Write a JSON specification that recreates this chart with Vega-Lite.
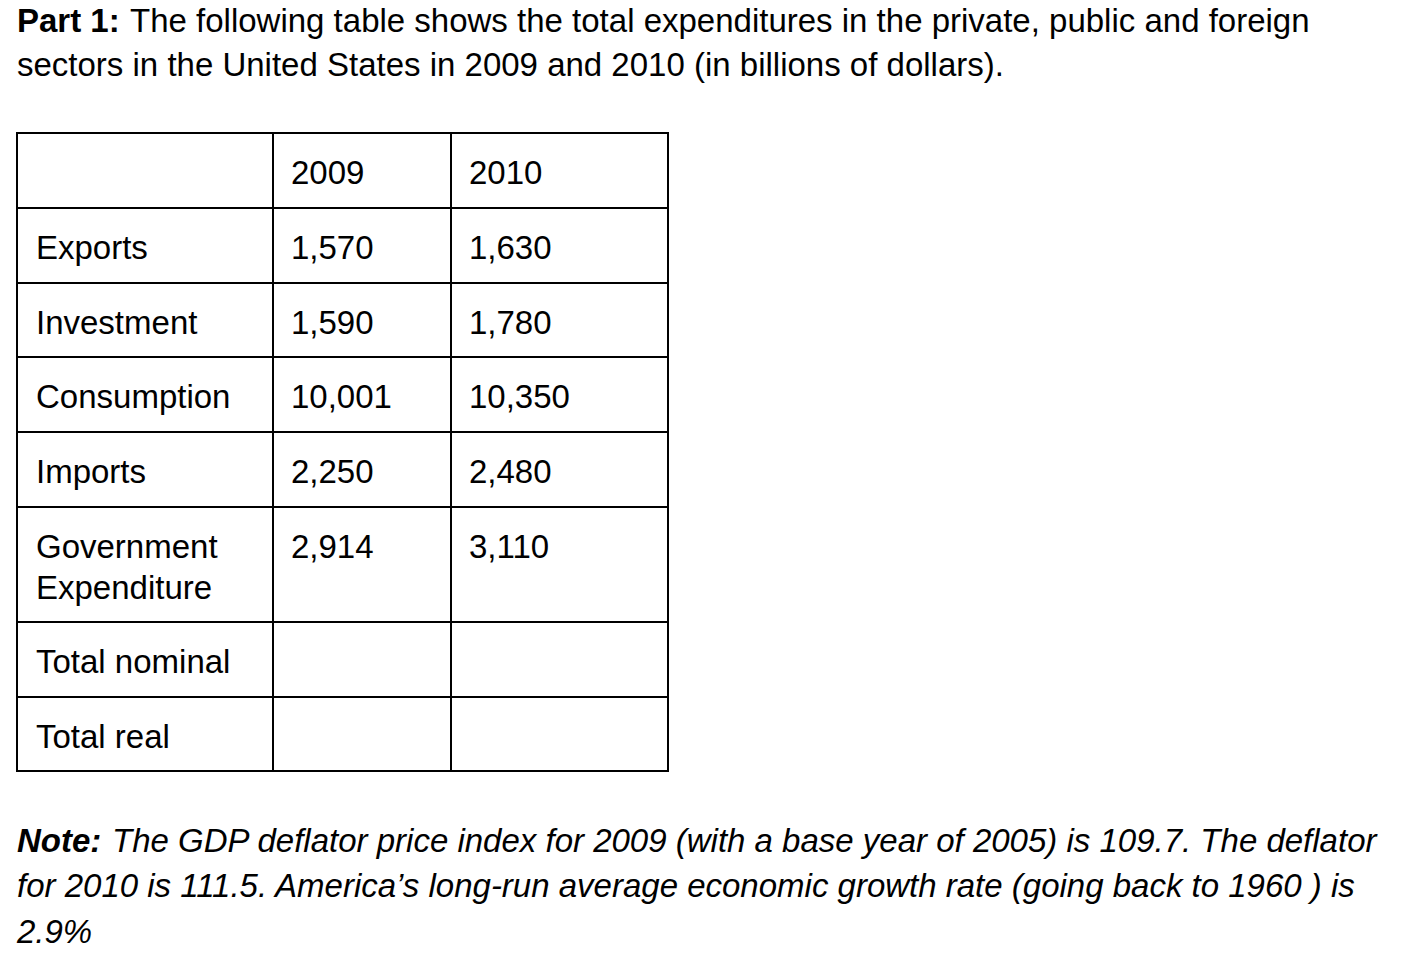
{
  "$schema": "https://vega.github.io/schema/vega-lite/v6.json",
  "width": 1428,
  "height": 958,
  "autosize": {"type": "fit", "contains": "padding"},
  "padding": 0,
  "background": "white",
  "config": {"view": {"stroke": null}, "font": "Liberation Sans"},
  "datasets": {
    "prose": [
      {"line": 0, "seg": 0, "style": "bold", "text": "Part 1:"},
      {"line": 0, "seg": 2, "style": "plain", "text": "The following table shows the total expenditures in the private, public and foreign"},
      {"line": 1, "seg": 0, "style": "plain", "text": "sectors in the United States in 2009 and 2010 (in billions of dollars)."},
      {"line": 2, "seg": 0, "style": "bolditalic", "text": "Note:"},
      {"line": 2, "seg": 1, "style": "italic", "text": "The GDP deflator price index for 2009 (with a base year of 2005) is 109.7. The deflator"},
      {"line": 3, "seg": 0, "style": "italic", "text": "for 2010 is 111.5. America’s long-run average economic growth rate (going back to 1960 ) is"},
      {"line": 4, "seg": 0, "style": "italic", "text": "2.9%"}
    ],
    "rows": [
      {"r": 1, "label": "Exports"},
      {"r": 2, "label": "Investment"},
      {"r": 3, "label": "Consumption"},
      {"r": 4, "label": "Imports"},
      {"r": 5, "label": "Government\nExpenditure"},
      {"r": 6, "label": "Total nominal"},
      {"r": 7, "label": "Total real"}
    ],
    "header": [
      {"r": 0, "c": 1, "year": "2009"},
      {"r": 0, "c": 2, "year": "2010"}
    ],
    "cells": [
      {"r": 1, "c": 1, "value": 1570},
      {"r": 1, "c": 2, "value": 1630},
      {"r": 2, "c": 1, "value": 1590},
      {"r": 2, "c": 2, "value": 1780},
      {"r": 3, "c": 1, "value": 10001},
      {"r": 3, "c": 2, "value": 10350},
      {"r": 4, "c": 1, "value": 2250},
      {"r": 4, "c": 2, "value": 2480},
      {"r": 5, "c": 1, "value": 2914},
      {"r": 5, "c": 2, "value": 3110}
    ],
    "hlines": [{"r": 0}, {"r": 1}, {"r": 2}, {"r": 3}, {"r": 4}, {"r": 5}, {"r": 6}, {"r": 7}, {"r": 8}],
    "vlines": [{"c": 0}, {"c": 1}, {"c": 2}, {"c": 3}]
  },
  "resolve": {"scale": {"x": "independent", "y": "independent"}},
  "layer": [
    {
      "data": {"name": "hlines"},
      "mark": {"type": "rule", "stroke": "black", "strokeWidth": 2, "strokeCap": "square"},
      "encoding": {
        "y": {"field": "r", "type": "quantitative", "axis": null,
              "scale": {"domain": [0, 1, 2, 3, 4, 5, 6, 7, 8], "range": [133, 208, 283, 357, 432, 507, 622, 697, 771], "zero": false, "nice": false}},
        "x": {"datum": 0, "type": "quantitative", "axis": null,
              "scale": {"domain": [0, 1, 2, 3], "range": [17, 273, 451, 668], "zero": false, "nice": false}},
        "x2": {"datum": 3}
      }
    },
    {
      "data": {"name": "vlines"},
      "mark": {"type": "rule", "stroke": "black", "strokeWidth": 2, "strokeCap": "square"},
      "encoding": {
        "x": {"field": "c", "type": "quantitative", "axis": null,
              "scale": {"domain": [0, 1, 2, 3], "range": [17, 273, 451, 668], "zero": false, "nice": false}},
        "y": {"datum": 0, "type": "quantitative", "axis": null,
              "scale": {"domain": [0, 1, 2, 3, 4, 5, 6, 7, 8], "range": [133, 208, 283, 357, 432, 507, 622, 697, 771], "zero": false, "nice": false}},
        "y2": {"datum": 8}
      }
    },
    {
      "data": {"name": "rows"},
      "mark": {"type": "text", "align": "left", "baseline": "alphabetic", "fontSize": 33, "dx": 19, "dy": 51, "lineBreak": "\n", "lineHeight": 41, "color": "black", "font": "Liberation Sans"},
      "encoding": {
        "x": {"datum": 0, "type": "quantitative", "axis": null,
              "scale": {"domain": [0, 1, 2, 3], "range": [17, 273, 451, 668], "zero": false, "nice": false}},
        "y": {"field": "r", "type": "quantitative", "axis": null,
              "scale": {"domain": [0, 1, 2, 3, 4, 5, 6, 7, 8], "range": [133, 208, 283, 357, 432, 507, 622, 697, 771], "zero": false, "nice": false}},
        "text": {"field": "label", "type": "nominal"}
      }
    },
    {
      "data": {"name": "header"},
      "mark": {"type": "text", "align": "left", "baseline": "alphabetic", "fontSize": 33, "dx": 18, "dy": 51, "color": "black", "font": "Liberation Sans"},
      "encoding": {
        "x": {"field": "c", "type": "quantitative", "axis": null,
              "scale": {"domain": [0, 1, 2, 3], "range": [17, 273, 451, 668], "zero": false, "nice": false}},
        "y": {"field": "r", "type": "quantitative", "axis": null,
              "scale": {"domain": [0, 1, 2, 3, 4, 5, 6, 7, 8], "range": [133, 208, 283, 357, 432, 507, 622, 697, 771], "zero": false, "nice": false}},
        "text": {"field": "year", "type": "nominal"}
      }
    },
    {
      "data": {"name": "cells"},
      "mark": {"type": "text", "align": "left", "baseline": "alphabetic", "fontSize": 33, "dx": 18, "dy": 51, "color": "black", "font": "Liberation Sans"},
      "encoding": {
        "x": {"field": "c", "type": "quantitative", "axis": null,
              "scale": {"domain": [0, 1, 2, 3], "range": [17, 273, 451, 668], "zero": false, "nice": false}},
        "y": {"field": "r", "type": "quantitative", "axis": null,
              "scale": {"domain": [0, 1, 2, 3, 4, 5, 6, 7, 8], "range": [133, 208, 283, 357, 432, 507, 622, 697, 771], "zero": false, "nice": false}},
        "text": {"field": "value", "type": "quantitative", "format": ","}
      }
    },
    {
      "data": {"name": "prose"},
      "transform": [{"filter": "datum.style === 'bold'"}],
      "mark": {"type": "text", "align": "left", "baseline": "alphabetic", "fontSize": 33, "fontWeight": "bold", "color": "black", "font": "Liberation Sans"},
      "encoding": {
        "x": {"field": "seg", "type": "quantitative", "axis": null,
              "scale": {"domain": [0, 1, 2], "range": [17, 112, 130], "zero": false, "nice": false}},
        "y": {"field": "line", "type": "quantitative", "axis": null,
              "scale": {"domain": [0, 1, 2, 3, 4], "range": [32, 76, 852, 897, 943], "zero": false, "nice": false}},
        "text": {"field": "text", "type": "nominal"}
      }
    },
    {
      "data": {"name": "prose"},
      "transform": [{"filter": "datum.style === 'plain'"}],
      "mark": {"type": "text", "align": "left", "baseline": "alphabetic", "fontSize": 33, "color": "black", "font": "Liberation Sans"},
      "encoding": {
        "x": {"field": "seg", "type": "quantitative", "axis": null,
              "scale": {"domain": [0, 1, 2], "range": [17, 112, 130], "zero": false, "nice": false}},
        "y": {"field": "line", "type": "quantitative", "axis": null,
              "scale": {"domain": [0, 1, 2, 3, 4], "range": [32, 76, 852, 897, 943], "zero": false, "nice": false}},
        "text": {"field": "text", "type": "nominal"}
      }
    },
    {
      "data": {"name": "prose"},
      "transform": [{"filter": "datum.style === 'bolditalic'"}],
      "mark": {"type": "text", "align": "left", "baseline": "alphabetic", "fontSize": 33, "fontWeight": "bold", "fontStyle": "italic", "color": "black", "font": "Liberation Sans"},
      "encoding": {
        "x": {"field": "seg", "type": "quantitative", "axis": null,
              "scale": {"domain": [0, 1, 2], "range": [17, 112, 130], "zero": false, "nice": false}},
        "y": {"field": "line", "type": "quantitative", "axis": null,
              "scale": {"domain": [0, 1, 2, 3, 4], "range": [32, 76, 852, 897, 943], "zero": false, "nice": false}},
        "text": {"field": "text", "type": "nominal"}
      }
    },
    {
      "data": {"name": "prose"},
      "transform": [{"filter": "datum.style === 'italic'"}],
      "mark": {"type": "text", "align": "left", "baseline": "alphabetic", "fontSize": 33, "fontStyle": "italic", "color": "black", "font": "Liberation Sans"},
      "encoding": {
        "x": {"field": "seg", "type": "quantitative", "axis": null,
              "scale": {"domain": [0, 1, 2], "range": [17, 112, 130], "zero": false, "nice": false}},
        "y": {"field": "line", "type": "quantitative", "axis": null,
              "scale": {"domain": [0, 1, 2, 3, 4], "range": [32, 76, 852, 897, 943], "zero": false, "nice": false}},
        "text": {"field": "text", "type": "nominal"}
      }
    }
  ]
}
